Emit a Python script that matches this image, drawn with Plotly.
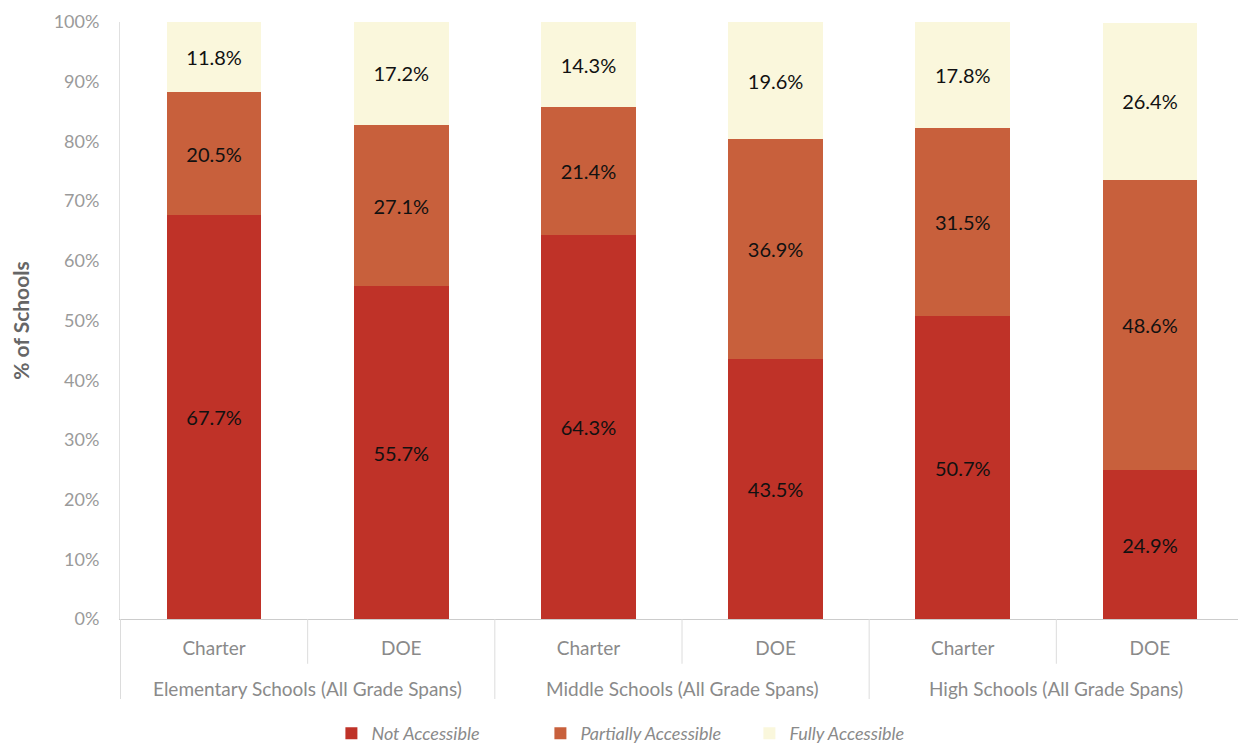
import plotly.graph_objects as go

groups = ["Elementary Schools (All Grade Spans)",
          "Middle Schools (All Grade Spans)",
          "High Schools (All Grade Spans)"]
types = ["Charter", "DOE"]

categories = [f"{g} | {t}" for g in groups for t in types]
category_labels = [t for g in groups for t in types]

not_accessible = [67.7, 55.7, 64.3, 43.5, 50.7, 24.9]
partially_accessible = [20.5, 27.1, 21.4, 36.9, 31.5, 48.6]
fully_accessible = [11.8, 17.2, 14.3, 19.6, 17.8, 26.4]

series = [
    ("Not Accessible", not_accessible, "#bf3228"),
    ("Partially Accessible", partially_accessible, "#c8603c"),
    ("Fully Accessible", fully_accessible, "#faf7dc"),
]

label_font = "Lato, 'Open Sans', sans-serif"

fig = go.Figure()
for name, vals, color in series:
    fig.add_trace(go.Bar(
        name=name,
        x=categories,
        y=vals,
        marker=dict(color=color, line=dict(width=0)),
        width=0.505,
        text=[f"{v:.1f}%" for v in vals],
        textposition="inside",
        insidetextanchor="middle",
        textangle=0,
        constraintext="none",
        textfont=dict(family=label_font, size=20, color="#111111"),
        hoverinfo="skip",
    ))

# group labels under the category labels
for i, g in enumerate(groups):
    fig.add_annotation(
        x=2 * i + 0.5, xref="x",
        y=-0.117, yref="paper",
        text=g, showarrow=False,
        xanchor="center", yanchor="middle",
        font=dict(family=label_font, size=19, color="#8a8a8a"),
    )

# boundary lines below the axis
n = len(categories)
for k in range(n + 1):
    xb = k - 0.5
    long_line = (k % 2 == 0)
    fig.add_shape(
        type="line", xref="x", yref="paper",
        x0=xb, x1=xb, y0=0, y1=(-0.134 if long_line else -0.075),
        line=dict(color="#dcdcdc", width=1),
    )

fig.update_layout(
    barmode="stack",
    width=1238, height=745,
    margin=dict(l=112, r=2, t=14, b=133),
    paper_bgcolor="white",
    plot_bgcolor="white",
    font=dict(family=label_font, color="#8a8a8a"),
    showlegend=True,
    legend=dict(
        orientation="h",
        x=0.467, xanchor="center",
        y=-0.19, yanchor="middle",
        font=dict(size=18, color="#8a8a8a", style="italic"),
        traceorder="normal",
        entrywidth=164,
        itemwidth=30,
    ),
)

fig.update_yaxes(
    range=[0, 100],
    dtick=10,
    ticksuffix="%",
    showgrid=False,
    zeroline=False,
    showline=True,
    linecolor="#e0e0e0",
    linewidth=1,
    automargin=False,
    tickfont=dict(size=18, color="#9a9a9a"),
    ticklabelstandoff=16,
    title=dict(text="<b>% of Schools</b>", font=dict(size=21, color="#666666"), standoff=20),
    ticks="",
)

fig.update_xaxes(
    type="category",
    categoryorder="array",
    categoryarray=categories,
    tickvals=categories,
    ticktext=category_labels,
    showgrid=False,
    showline=True,
    linecolor="#cccccc",
    linewidth=1,
    automargin=False,
    tickfont=dict(size=19, color="#8a8a8a"),
    ticklabelstandoff=12,
    ticks="",
)

fig.write_html("out.html")
